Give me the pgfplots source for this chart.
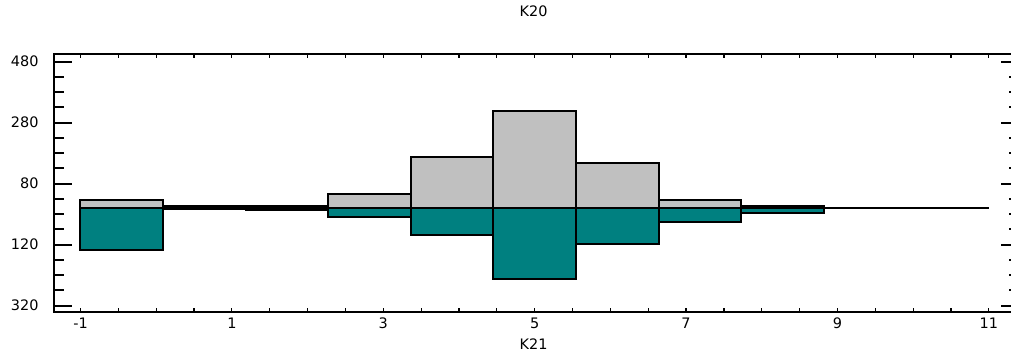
\documentclass[border=0pt]{standalone}
\usepackage{pgfplots}
\pgfplotsset{compat=1.18}
\usepackage{fontspec}
\setmainfont{DejaVu Sans}
\definecolor{bargrey}{HTML}{C0C0C0}
\definecolor{barteal}{HTML}{008080}
\begin{document}
\begin{tikzpicture}
\path[use as bounding box] (0,0) rectangle (1011bp,354bp);
\pgfplotsset{common/.style={
  scale only axis, width=965.1bp, height=257.4bp,
  at={(54bp,42.3bp)}, anchor=south west,
  xmin=-1.35, xmax=11.4, ymin=-340, ymax=504,
  axis line style={line width=2.2bp},
  tick align=inside,
  font=\fontsize{14.5}{17}\selectfont,
}}
\begin{axis}[common,
  xtick={-1,1,3,5,7,9,11}, xticklabels={-1,1,3,5,7,9,11},
  minor x tick num=3,
  major tick length=3.5bp, minor tick length=3.5bp,
  ytick=\empty,
  xtick style={line width=1.2bp, black},
  xticklabel style={yshift=-3bp},
  title={K20}, title style={at={(0.5,1)}, anchor=center, yshift=37bp, xshift=-3bp},
  xlabel={K21}, xlabel style={at={(0.5,0)}, anchor=center, yshift=-32bp, xshift=-3bp},
]
\addplot[ybar interval, fill=bargrey, draw=black, line width=2bp] coordinates {
(-1,25) (0.0909,5) (1.1818,5) (2.2727,47) (3.3636,167) (4.4545,317) (5.5455,149) (6.6364,25) (7.7273,5) (8.8182,0)};
\addplot[ybar interval, fill=barteal, draw=black, line width=2bp] coordinates {
(-1,-139) (0.0909,-3) (1.1818,-8) (2.2727,-28) (3.3636,-90) (4.4545,-232) (5.5455,-117) (6.6364,-46) (7.7273,-15) (8.8182,0)};
\addplot[black, line width=2bp, no marks] coordinates {(-1,0) (11,0)};
\end{axis}
\begin{axis}[common,
  xtick=\empty,
  ytick={-320,-120,80,280,480}, yticklabels={320,120,80,280,480},
  minor ytick={-270,-220,...,480},
  major tick length=18bp, minor tick length=10bp,
  ytick style={line width=2bp, black},
  yticklabel style={xshift=-12bp},
]
\end{axis}
\end{tikzpicture}
\end{document}
